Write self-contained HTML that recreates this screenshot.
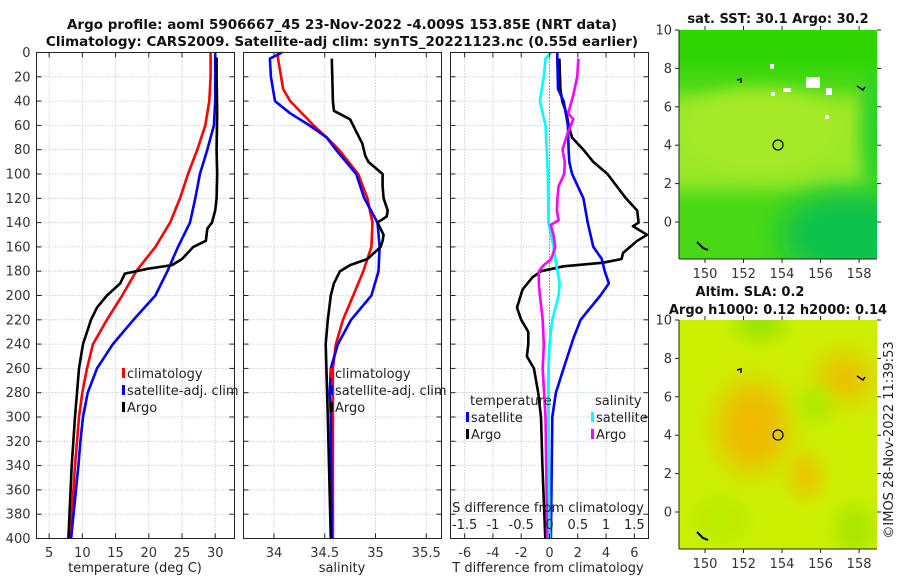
<!DOCTYPE html>
<html><head><meta charset="utf-8">
<style>
html,body{margin:0;padding:0;background:#fff;}
svg{display:block;font-family:"DejaVu Sans","Liberation Sans",sans-serif;}
</style></head>
<body>
<svg id="fig" width="900" height="580" viewBox="0 0 900 580" xmlns="http://www.w3.org/2000/svg">
<defs>
<filter id="blur1" x="-50%" y="-50%" width="200%" height="200%"><feGaussianBlur stdDeviation="9"/></filter>
<filter id="blur2" x="-50%" y="-50%" width="200%" height="200%"><feGaussianBlur stdDeviation="14"/></filter>
<clipPath id="clipM1"><rect x="679" y="30" width="198" height="229"/></clipPath>
<clipPath id="clipM2"><rect x="679" y="320" width="198" height="229"/></clipPath>
</defs>
<text x="342" y="29" text-anchor="middle" font-size="13.5" font-weight="bold" fill="#111">Argo profile: aoml 5906667_45 23-Nov-2022 -4.009S 153.85E (NRT data)</text>
<text x="342" y="46" text-anchor="middle" font-size="13.5" font-weight="bold" fill="#111">Climatology: CARS2009. Satellite-adj clim: synTS_20221123.nc (0.55d earlier)</text>
<g id="plots"></g>
<g id="maps">
 <g clip-path="url(#clipM1)">
  <rect x="679" y="30" width="198" height="229" fill="#48d816"/>
  <rect x="660" y="20" width="240" height="50" fill="#2ed400" filter="url(#blur1)"/>
  <rect x="660" y="95" width="210" height="95" fill="#9ae826" filter="url(#blur1)"/>
  <ellipse cx="760" cy="130" rx="80" ry="40" fill="#a6ea28" filter="url(#blur1)"/>
  <ellipse cx="850" cy="235" rx="70" ry="45" fill="#10c24c" filter="url(#blur2)"/>
  <ellipse cx="875" cy="130" rx="12" ry="60" fill="#22cf30" filter="url(#blur1)"/>
  <rect x="770" y="64" width="4" height="5" fill="#fff"/>
  <rect x="806" y="77" width="14" height="11" fill="#fff"/>
  <rect x="783" y="88" width="8" height="4" fill="#fff"/>
  <rect x="826" y="88" width="6" height="7" fill="#fff"/>
  <rect x="771" y="92" width="4" height="4" fill="#fff"/>
  <rect x="825" y="115" width="4" height="4" fill="#fff"/>
  <path d="M697 242 l6 6 l5 2" stroke="#000" stroke-width="2" fill="none"/>
  <path d="M857 86 l6 4 l2 -3" stroke="#000" stroke-width="1.5" fill="none"/>
  <path d="M737 80 l4 -1 l0 4" stroke="#000" stroke-width="1.5" fill="none"/>
  <circle cx="778" cy="145" r="5" fill="none" stroke="#000" stroke-width="1.2"/>
 </g>
 <g clip-path="url(#clipM2)">
  <rect x="679" y="320" width="198" height="229" fill="#ccef00"/>
  <ellipse cx="753" cy="427" rx="36" ry="46" fill="#f0ba00" filter="url(#blur2)"/>
  <ellipse cx="845" cy="378" rx="28" ry="24" fill="#eebc00" filter="url(#blur2)"/>
  <ellipse cx="806" cy="476" rx="16" ry="22" fill="#ecc400" filter="url(#blur1)"/>
  <ellipse cx="760" cy="325" rx="25" ry="14" fill="#96e400" filter="url(#blur1)"/>
  <ellipse cx="815" cy="405" rx="16" ry="18" fill="#acea00" filter="url(#blur1)"/>
  <ellipse cx="855" cy="530" rx="20" ry="25" fill="#a8e600" filter="url(#blur1)"/>
  <ellipse cx="720" cy="520" rx="30" ry="25" fill="#bcec00" filter="url(#blur1)"/>
  <path d="M697 532 l6 6 l5 2" stroke="#000" stroke-width="2" fill="none"/>
  <path d="M857 376 l6 4 l2 -3" stroke="#000" stroke-width="1.5" fill="none"/>
  <path d="M737 370 l4 -1 l0 4" stroke="#000" stroke-width="1.5" fill="none"/>
  <circle cx="778" cy="435" r="5" fill="none" stroke="#000" stroke-width="1.2"/>
 </g>
 <text x="778" y="23" text-anchor="middle" font-size="13" font-weight="bold" fill="#111">sat. SST: 30.1 Argo: 30.2</text>
 <text x="750" y="296" text-anchor="middle" font-size="13" font-weight="bold" fill="#111">Altim. SLA: 0.2</text>
 <text x="778" y="314" text-anchor="middle" font-size="13" font-weight="bold" fill="#111">Argo h1000: 0.12 h2000: 0.14</text>
 <text transform="translate(893,440) rotate(-90)" text-anchor="middle" font-size="13" fill="#222">©IMOS 28-Nov-2022 11:39:53</text>
</g>
</svg>
<script>
// Temperature profiles (deg C) vs depth (m)
const tClimDepth = [0,20,40,60,80,100,120,140,160,180,200,220,240,260,280,300,320,340,400];
const tClim = [29.3,29.3,29.1,28.5,27.3,25.9,24.7,23.2,21.0,18.1,16.0,13.7,11.6,10.7,10.0,9.5,9.2,8.9,8.2];
const tSatDepth = [0,20,40,60,80,100,120,140,160,180,200,220,240,260,280,300,320,340,400];
const tSat = [30.0,30.0,30.0,29.8,28.8,27.7,27.0,26.2,24.4,22.8,21.0,17.7,14.6,12.2,10.8,10.1,9.7,9.4,8.3];
const tArgoDepth = [4,20,50,80,100,120,130,140,145,155,160,170,175,178,182,190,200,210,220,240,260,280,300,340,400];
const tArgo = [30.2,30.2,30.3,30.2,30.3,30.2,30.0,29.5,28.8,28.6,26.7,25.0,23.5,19.8,16.4,15.7,13.7,12.2,11.3,10.1,9.5,9.2,8.9,8.4,7.9];
// Salinity profiles
const sClimDepth = [0,5,20,30,40,60,70,80,100,120,140,160,180,200,220,240,260,300,400];
const sClim = [34.04,34.04,34.07,34.09,34.16,34.39,34.52,34.64,34.83,34.92,34.97,34.96,34.88,34.78,34.68,34.61,34.58,34.58,34.58];
const sSatDepth = [0,5,20,40,50,60,70,80,100,120,140,160,180,200,220,240,260,280,300,400];
const sSat = [34.08,33.96,33.97,34.01,34.16,34.35,34.52,34.61,34.81,34.89,35.02,35.04,35.03,34.96,34.76,34.63,34.56,34.55,34.56,34.57];
const sArgoDepth = [5,40,48,55,65,75,85,90,100,110,120,130,135,140,150,155,160,170,175,180,190,200,220,240,300,400];
const sArgo = [34.57,34.58,34.59,34.75,34.81,34.87,34.90,34.93,35.07,35.07,35.08,35.12,35.11,35.02,35.08,35.07,35.05,34.92,34.75,34.65,34.59,34.56,34.53,34.51,34.53,34.56];
// Differences from climatology
const dTSatDepth = [0,5,30,40,60,80,90,100,120,140,160,170,180,190,200,220,235,260,280,300,400];
const dTSat = [0.55,0.55,0.6,1.0,1.3,1.35,1.4,1.6,2.4,2.7,3.1,3.7,3.9,4.2,3.6,2.2,1.7,1.0,0.45,0.2,0.1];
const dTArgoDepth = [5,30,40,50,60,70,80,90,100,120,130,140,143,150,155,160,165,170,173,176,180,185,195,210,220,230,240,250,260,280,300,340,400];
const dTArgo = [0.7,0.77,0.9,1.2,1.35,1.6,2.4,3.1,4.1,5.4,6.2,6.3,5.9,6.9,6.2,5.7,5.2,5.1,3.8,1.0,-0.6,-1.2,-1.9,-2.3,-2.0,-1.5,-1.5,-1.6,-1.1,-0.8,-0.6,-0.5,-0.3];
const dSSatDepth = [0,5,20,40,60,80,100,140,160,180,190,200,220,240,260,300,400];
const dSSat = [0.03,-0.07,-0.1,-0.17,-0.07,-0.05,-0.03,-0.02,0.07,0.14,0.18,0.16,0.05,0.0,-0.02,-0.02,0.0];
const dSArgoDepth = [5,20,35,50,55,65,80,90,100,110,120,130,138,142,150,160,170,175,180,190,200,220,240,260,300,400];
const dSArgo = [0.51,0.49,0.42,0.33,0.42,0.33,0.23,0.27,0.26,0.16,0.14,0.13,0.16,0.02,0.07,0.1,0.03,-0.1,-0.19,-0.19,-0.17,-0.12,-0.1,-0.12,-0.07,-0.04];
// Tick labels
const depthTicks = [0,20,40,60,80,100,120,140,160,180,200,220,240,260,280,300,320,340,360,380,400];
const tTicks = [5,10,15,20,25,30];
const sTicks = [34,34.5,35,35.5];
const dTTicks = [-6,-4,-2,0,2,4,6];
const dSTicks = [-1.5,-1,-0.5,0,0.5,1,1.5];
const latTicks = [0,2,4,6,8,10];
const lonTicks = [150,152,154,156,158];

const NS = 'http://www.w3.org/2000/svg';
const root = document.getElementById('plots');
function mk(tag, attrs, parent){
  const e = document.createElementNS(NS, tag);
  for (const k in attrs) e.setAttribute(k, attrs[k]);
  (parent||root).appendChild(e);
  return e;
}
const Y0 = 52.5, Y1 = 538.5;
const yD = d => Y0 + d/400*(Y1-Y0);
function lin(d0,d1,r0,r1){ return v => r0 + (v-d0)/(d1-d0)*(r1-r0); }

const panels = [
  {x0:36.5, x1:234.5, dom:[3.1,32.9], name:'temperature-panel'},
  {x0:243.5, x1:441.5, dom:[33.70,35.65], name:'salinity-panel'},
  {x0:450.5, x1:648.5, dom:[-7,7], name:'difference-panel'}
];
panels.forEach(p => { p.sx = lin(p.dom[0],p.dom[1],p.x0,p.x1); });
const xT = panels[0].sx, xS = panels[1].sx, xDT = panels[2].sx;
const xDS = lin(-1.75,1.75,450.5,648.5);

function grid(p, xt, xfun){
  const g = mk('g',{});
  
  
  depthTicks.forEach(d => {
    mk('line',{x1:p.x0,x2:p.x1,y1:yD(d),y2:yD(d),stroke:'#b8c4e8','stroke-width':0.8,'stroke-dasharray':'1.5,1.5'},g);
  });
  xt.forEach(v => {
    mk('line',{x1:xfun(v),x2:xfun(v),y1:Y0,y2:Y1,stroke:'#b8c4e8','stroke-width':0.8,'stroke-dasharray':'1.5,1.5'},g);
  });
}
function frame(p, xt, xfun, showY){
  const g = mk('g',{});
  
  
  mk('rect',{x:p.x0,y:Y0,width:p.x1-p.x0,height:Y1-Y0,fill:'none',stroke:'#222','stroke-width':1},g);
  depthTicks.forEach(d => {
    mk('line',{x1:p.x0,x2:p.x0+5,y1:yD(d),y2:yD(d),stroke:'#222'},g);
    mk('line',{x1:p.x1-5,x2:p.x1,y1:yD(d),y2:yD(d),stroke:'#222'},g);
    if (showY){
      const t = mk('text',{x:p.x0-6,y:yD(d)+4.5,'text-anchor':'end','font-size':13,fill:'#333'},g);
      t.textContent = d;
      
      
    }
  });
  xt.forEach(v => {
    mk('line',{x1:xfun(v),x2:xfun(v),y1:Y1,y2:Y1-5,stroke:'#222'},g);
    mk('line',{x1:xfun(v),x2:xfun(v),y1:Y0,y2:Y0+5,stroke:'#222'},g);
    const t = mk('text',{x:xfun(v),y:557,'text-anchor':'middle','font-size':13,fill:'#333'},g);
    t.textContent = v;
    
    
  });
}
function series(xs, ds, xfun, color, name, w){
  const pts = xs.map((v,i) => xfun(v).toFixed(1)+','+yD(ds[i]).toFixed(1)).join(' ');
  const l = mk('polyline',{points:pts,fill:'none',stroke:color,'stroke-width':w||2.6,'stroke-linejoin':'round'});
  
  
}
function label(x,y,txt,name,anchor,size){
  const t = mk('text',{x:x,y:y,'text-anchor':anchor||'start','font-size':size||13,fill:'#222'});
  t.textContent = txt;
  
  
  return t;
}
function legendEntry(x,y,color,txt,name){
  const g = mk('g',{});
  
  
  mk('rect',{x:x,y:y-10,width:3,height:10,fill:color},g);
  const t = mk('text',{x:x+5,y:y,'font-size':13,fill:'#222'},g);
  t.textContent = txt;
}

// Panel 1: temperature
grid(panels[0], tTicks, xT);
series(tClim, tClimDepth, xT, '#ff0000', 'temperature-climatology-line');
series(tSat, tSatDepth, xT, '#0000ff', 'temperature-satellite-line');
series(tArgo, tArgoDepth, xT, '#000000', 'temperature-argo-line');
frame(panels[0], tTicks, xT, true);
legendEntry(122,378,'#ff0000','climatology','legend-temp-climatology');
legendEntry(122,395,'#0000ff','satellite-adj. clim','legend-temp-satellite');
legendEntry(122,412,'#000000','Argo','legend-temp-argo');
label(135,572,'temperature (deg C)','temperature-axis-title','middle');

// Panel 2: salinity
grid(panels[1], sTicks, xS);
series(sClim, sClimDepth, xS, '#ff0000', 'salinity-climatology-line');
series(sSat, sSatDepth, xS, '#0000ff', 'salinity-satellite-line');
series(sArgo, sArgoDepth, xS, '#000000', 'salinity-argo-line');
frame(panels[1], sTicks, xS, false);
legendEntry(330,378,'#ff0000','climatology','legend-sal-climatology');
legendEntry(330,395,'#0000ff','satellite-adj. clim','legend-sal-satellite');
legendEntry(330,412,'#000000','Argo','legend-sal-argo');
label(342,572,'salinity','salinity-axis-title','middle');

// Panel 3: differences
grid(panels[2], dTTicks, xDT);
const zl = mk('line',{x1:xDT(0),x2:xDT(0),y1:Y0,y2:Y1,stroke:'#555','stroke-width':1,'stroke-dasharray':'1,2'});


series(dTArgo, dTArgoDepth, xDT, '#000000', 'tdiff-argo-line');
series(dTSat, dTSatDepth, xDT, '#0000ff', 'tdiff-satellite-line');
series(dSSat, dSSatDepth, xDS, '#00ffff', 'sdiff-satellite-line');
series(dSArgo, dSArgoDepth, xDS, '#ff00ff', 'sdiff-argo-line');
frame(panels[2], dTTicks, xDT, false);
dSTicks.forEach(v => {
  label(xDS(v), 529, String(v), 'sdiff-tick-label', 'middle');
});
label(548,512,'S difference from climatology','sdiff-axis-title','middle');
label(548,572,'T difference from climatology','tdiff-axis-title','middle');
label(470,405,'temperature','legend-temperature-header');
label(595,405,'salinity','legend-salinity-header');
legendEntry(466,422,'#0000ff','satellite','legend-tdiff-satellite');
legendEntry(466,439,'#000000','Argo','legend-tdiff-argo');
legendEntry(591,422,'#00ffff','satellite','legend-sdiff-satellite');
legendEntry(591,439,'#ff00ff','Argo','legend-sdiff-argo');

// Map axes
const lonX = lin(148.65,158.93,679,877);
function mapAxes(yTop, name){
  const latY = lin(10,0,yTop,yTop+192);
  const g = mk('g',{}, document.getElementById('maps'));
  
  
  mk('line',{x1:679,x2:679,y1:yTop,y2:yTop+229,stroke:'#222'},g);
  mk('line',{x1:679,x2:877,y1:yTop+229,y2:yTop+229,stroke:'#222'},g);
  latTicks.forEach(v => {
    mk('line',{x1:675,x2:679,y1:latY(v),y2:latY(v),stroke:'#222'},g);
    mk('line',{x1:877,x2:881,y1:latY(v),y2:latY(v),stroke:'#222'},g);
    const t = mk('text',{x:672,y:latY(v)+4.5,'text-anchor':'end','font-size':13,fill:'#333'},g);
    t.textContent = v;
  });
  lonTicks.forEach(v => {
    mk('line',{x1:lonX(v),x2:lonX(v),y1:yTop+229,y2:yTop+233,stroke:'#222'},g);
    mk('line',{x1:lonX(v),x2:lonX(v),y1:yTop,y2:yTop-4,stroke:'#222'},g);
    const t = mk('text',{x:lonX(v),y:yTop+248,'text-anchor':'middle','font-size':13,fill:'#333'},g);
    t.textContent = v;
  });
}
mapAxes(30,'sst-map-axes');
mapAxes(320,'sla-map-axes');
</script>
</body></html>
